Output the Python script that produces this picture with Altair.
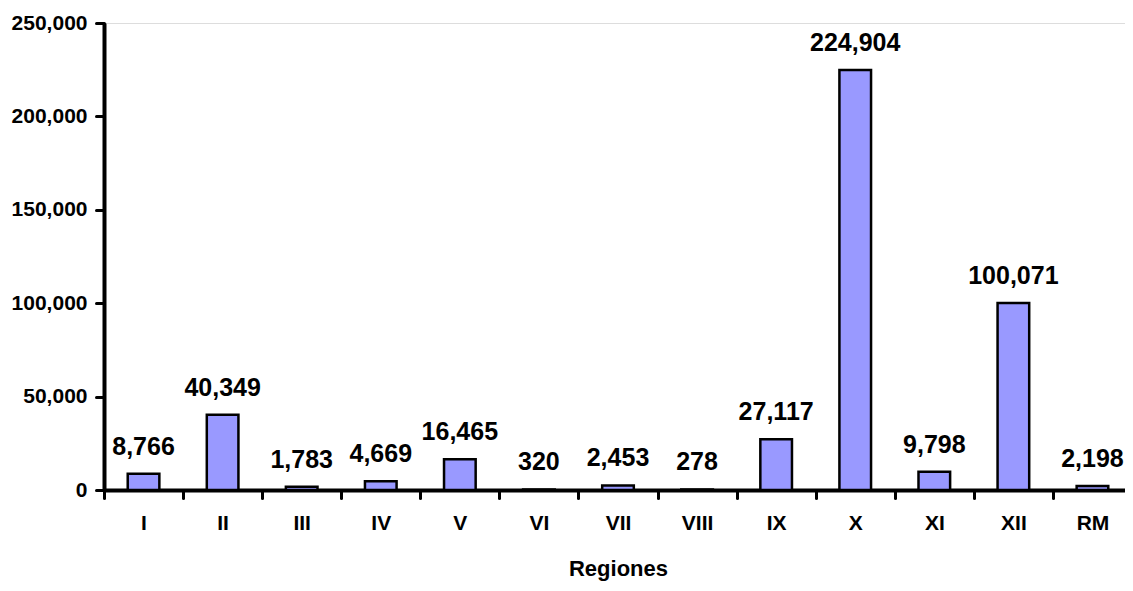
import altair as alt
import pandas as pd

regiones = ["I", "II", "III", "IV", "V", "VI", "VII", "VIII", "IX", "X", "XI", "XII", "RM"]
valores = [8766, 40349, 1783, 4669, 16465, 320, 2453, 278, 27117, 224904, 9798, 100071, 2198]

df = pd.DataFrame({"region": regiones, "valor": valores})

RANGE_W = 1028          # full extent of the category axis (runs past the right edge)
W = 1021                # visible plot width
H = 467
step = RANGE_W / len(regiones)
FONT = "Liberation Sans"

x = alt.X(
    "region:N",
    sort=regiones,
    title="Regiones",
    scale=alt.Scale(range=[0, RANGE_W], paddingInner=0.6, paddingOuter=0.3),
    axis=alt.Axis(
        labelAngle=0,
        tickOffset=-step / 2,
        labelOffset=step / 2,
        tickSize=8,
        tickWidth=3,
        tickColor="black",
        tickCap="round",
        domainWidth=4,
        domainColor="black",
        labelFont=FONT,
        labelFontSize=21,
        labelFontWeight="bold",
        labelColor="black",
        labelPadding=14,
        titleFont=FONT,
        titleFontSize=22,
        titleFontWeight="bold",
        titleColor="black",
        titlePadding=25,
    ),
)

y = alt.Y(
    "valor:Q",
    title=None,
    scale=alt.Scale(domain=[0, 250000], nice=False),
    axis=alt.Axis(
        values=[0, 50000, 100000, 150000, 200000, 250000],
        format=",.0f",
        grid=False,
        tickSize=8,
        tickWidth=3,
        tickColor="black",
        tickCap="round",
        domainWidth=4,
        domainColor="black",
        labelFont=FONT,
        labelFontSize=21,
        labelFontWeight="bold",
        labelColor="black",
        labelPadding=9,
    ),
)

base = alt.Chart(df).encode(x=x, y=y)

bars = base.mark_bar(color="#9999FF", stroke="black", strokeWidth=2.5)

labels = base.mark_text(
    font=FONT, fontSize=25, fontWeight="bold", color="black",
    baseline="alphabetic", dy=-19
).encode(text=alt.Text("valor:Q", format=",.0f"))

chart = alt.layer(bars, labels).properties(
    width=W, height=H,
    autosize=alt.AutoSizeParams(type="none"),
    padding={"left": 96, "top": 15, "right": 0, "bottom": 93},
).configure_view(stroke=None).configure(background="white")

chart.save("out.html", embed_options={"renderer": "svg", "actions": False})
